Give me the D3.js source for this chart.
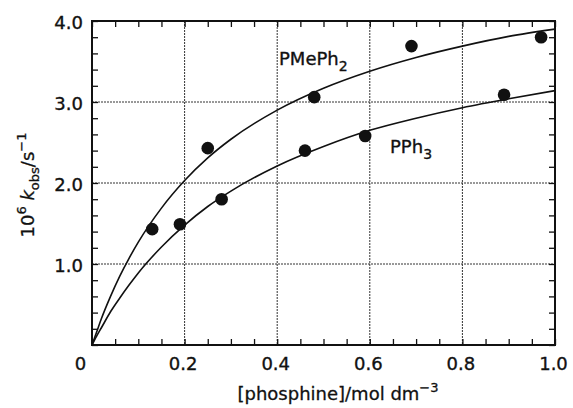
<!DOCTYPE html>
<html>
<head>
<meta charset="utf-8">
<script src="https://cdn.jsdelivr.net/npm/d3@7"></script>
<style>
  body { margin: 0; background: #fff; }
  text { font-family: "DejaVu Sans", sans-serif; fill: #111; }
</style>
</head>
<body>
<svg id="svg" width="573" height="408"></svg>
<script>
// measured points
let pmephX = [0.13, 0.25, 0.48, 0.69, 0.97];
let pmephY = [1.43, 2.43, 3.06, 3.69, 3.80];
let pph3X = [0.19, 0.28, 0.46, 0.59, 0.89];
let pph3Y = [1.49, 1.80, 2.40, 2.58, 3.09];

// fitted curves
let curveX = [0, 0.01, 0.02, 0.04, 0.06, 0.08, 0.1, 0.15, 0.2, 0.25, 0.3, 0.4, 0.5, 0.6, 0.7, 0.8, 0.9, 1.0];
let pmephFit = [0, 0.16, 0.32, 0.60, 0.85, 1.07, 1.27, 1.69, 2.03, 2.31, 2.54, 2.90, 3.17, 3.38, 3.55, 3.69, 3.81, 3.90];
let pph3Fit = [0, 0.11, 0.21, 0.41, 0.58, 0.74, 0.89, 1.21, 1.48, 1.71, 1.90, 2.21, 2.45, 2.65, 2.80, 2.93, 3.04, 3.14];

let xTicks = [0, 0.2, 0.4, 0.6, 0.8, 1.0];
let xTickLabels = ["0", "0.2", "0.4", "0.6", "0.8", "1.0"];
let yTicks = [1, 2, 3, 4];
let yTickLabels = ["1.0", "2.0", "3.0", "4.0"];

let svg = d3.select('#svg');
let pl = 92, pr = 555, pt = 21, pb = 345;

let x = d3.scaleLinear().domain([0, 1]).range([pl, pr]);
let y = d3.scaleLinear().domain([0, 4]).range([pb, pt]);

let xMinor = d3.range(0, 1.0001, 0.05);
let yMinor = d3.range(0, 4.0001, 0.2);

// grid
let grid = svg.append("g");
grid.selectAll(".gx").data([0.2, 0.4, 0.6, 0.8]).enter().append("line")
    .attr("x1", d => x(d)).attr("x2", d => x(d)).attr("y1", pt).attr("y2", pb)
    .attr("stroke", "#333").attr("stroke-width", 1).attr("stroke-dasharray", "2,1");
grid.selectAll(".gy").data([1, 2, 3]).enter().append("line")
    .attr("y1", d => y(d)).attr("y2", d => y(d)).attr("x1", pl).attr("x2", pr)
    .attr("stroke", "#333").attr("stroke-width", 1).attr("stroke-dasharray", "2,1");

// minor ticks on all four sides, pointing in
const tickStyle = g => {
    g.select(".domain").remove();
    g.selectAll(".tick line").attr("stroke", "#111").attr("stroke-width", 1.3);
};
svg.append("g").attr("transform", `translate(0,${pb})`)
    .call(d3.axisBottom(x).tickValues(xMinor).tickSize(-6).tickFormat("")).call(tickStyle);
svg.append("g").attr("transform", `translate(0,${pt})`)
    .call(d3.axisTop(x).tickValues(xMinor).tickSize(-6).tickFormat("")).call(tickStyle);
svg.append("g").attr("transform", `translate(${pl},0)`)
    .call(d3.axisLeft(y).tickValues(yMinor).tickSize(-6).tickFormat("")).call(tickStyle);
svg.append("g").attr("transform", `translate(${pr},0)`)
    .call(d3.axisRight(y).tickValues(yMinor).tickSize(-6).tickFormat("")).call(tickStyle);

// labelled axes
let xAxis = svg.append("g").attr("transform", `translate(-2,${pb})`)
    .call(d3.axisBottom(x).tickValues(xTicks).tickSize(0).tickPadding(12)
        .tickFormat((d, i) => xTickLabels[i]));
xAxis.select(".domain").remove();
xAxis.selectAll("text").style("font-size", "18px").style("font-family", "DejaVu Sans, sans-serif")
    .attr("fill", "#111").attr("stroke", "#111").attr("stroke-width", 0.35)
    .attr("dx", d => d === 0 ? -10 : 0);

let yAxis = svg.append("g").attr("transform", `translate(${pl},2)`)
    .call(d3.axisLeft(y).tickValues(yTicks).tickSize(0).tickPadding(9)
        .tickFormat((d, i) => yTickLabels[i]));
yAxis.select(".domain").remove();
yAxis.selectAll("text").style("font-size", "18px").style("font-family", "DejaVu Sans, sans-serif")
    .attr("fill", "#111").attr("stroke", "#111").attr("stroke-width", 0.35);

// frame
svg.append("rect").attr("x", pl).attr("y", pt).attr("width", pr - pl).attr("height", pb - pt)
    .attr("fill", "none").attr("stroke", "#111").attr("stroke-width", 2);

// curves
let line = d3.line().x(d => x(d[0])).y(d => y(d[1])).curve(d3.curveMonotoneX);
svg.append("path").datum(curveX.map((v, i) => [v, pmephFit[i]])).attr("d", line)
    .attr("fill", "none").attr("stroke", "#111").attr("stroke-width", 1.6);
svg.append("path").datum(curveX.map((v, i) => [v, pph3Fit[i]])).attr("d", line)
    .attr("fill", "none").attr("stroke", "#111").attr("stroke-width", 1.6);

// points
svg.selectAll(".p1").data(pmephX).enter().append("circle")
    .attr("cx", d => x(d)).attr("cy", (d, i) => y(pmephY[i])).attr("r", 6.3).attr("fill", "#111");
svg.selectAll(".p2").data(pph3X).enter().append("circle")
    .attr("cx", d => x(d)).attr("cy", (d, i) => y(pph3Y[i])).attr("r", 6.3).attr("fill", "#111");

// series labels
let lab1 = svg.append("text").attr("x", 279).attr("y", 65).style("font-size", "18px")
    .attr("stroke", "#111").attr("stroke-width", 0.35);
lab1.append("tspan").text("PMePh");
lab1.append("tspan").attr("dy", 6).style("font-size", "14px").text("2");

let lab2 = svg.append("text").attr("x", 390).attr("y", 153).style("font-size", "18px")
    .attr("stroke", "#111").attr("stroke-width", 0.35);
lab2.append("tspan").text("PPh");
lab2.append("tspan").attr("dy", 6).style("font-size", "14px").text("3");

// axis titles
let xt = svg.append("text").attr("x", 338).attr("y", 400).attr("text-anchor", "middle")
    .style("font-size", "18px").attr("stroke", "#111").attr("stroke-width", 0.3);
xt.append("tspan").text("[phosphine]/mol dm");
xt.append("tspan").attr("dy", -8).style("font-size", "13px").text("\u22123");

let yt = svg.append("text").attr("transform", "translate(34,185) rotate(-90)").attr("text-anchor", "middle")
    .style("font-size", "18px").attr("stroke", "#111").attr("stroke-width", 0.3);
yt.append("tspan").text("10");
yt.append("tspan").attr("dy", -8).style("font-size", "13px").text("6");
yt.append("tspan").attr("dy", 8).text(" ");
yt.append("tspan").style("font-style", "italic").text("k");
yt.append("tspan").attr("dy", 5).style("font-size", "13px").text("obs");
yt.append("tspan").attr("dy", -5).text("/s");
yt.append("tspan").attr("dy", -8).style("font-size", "13px").text("\u22121");
</script>
</body>
</html>
